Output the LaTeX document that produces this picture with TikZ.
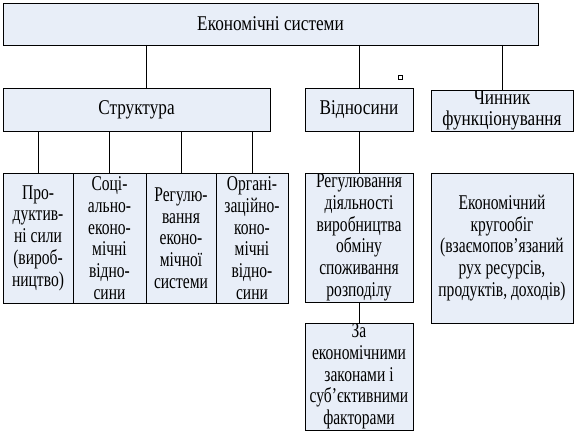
\documentclass[tikz,border=0pt]{standalone}
\usepackage{fontspec}
\setmainfont{Liberation Serif}[FakeStretch=0.82]
\newfontfamily\narrowserif{Liberation Serif}[FakeStretch=0.74]
\usetikzlibrary{positioning}
\definecolor{boxblue}{HTML}{E8EEF8}
\tikzset{
    sys box/.style={
        draw=black,
        line width=0.9pt,
        fill=boxblue,
        align=center,
        inner sep=0pt,
        outer sep=0pt,
        anchor=north west,
        font=\fontsize{21}{21.7}\selectfont
    },
    sys cell/.style={sys box, font=\narrowserif\fontsize{21}{21.7}\selectfont},
    sys line/.style={draw=black, line width=0.9pt},
    sys tick/.style={draw=black, line width=0.7pt, fill=white, minimum size=4pt, inner sep=0pt}
}

\begin{document}
\begin{tikzpicture}[x=1pt, y=-1pt]
\useasboundingbox (0,0) rectangle (575,433);
% top level
\node[sys box, minimum width=535pt, minimum height=42pt] (top) at (3,3) {Економічні системи};

% second level
\node[sys box, minimum width=267pt, minimum height=43pt] (str) at (3,88) {Структура};
\node[sys box, minimum width=108pt, minimum height=43pt] (rel) at (305,88) {Відносини};
\node[sys box, minimum width=142pt, minimum height=41pt] (fac) at (431,90) {Чинник\\функціонування};
\node[sys tick] (tick) at (400,77.5) {};

% structure parts
\node[sys cell, minimum width=70pt, minimum height=130pt] (prod) at (3,173) {Про-\\дуктив-\\ні сили\\(вироб-\\ництво)};
\node[sys cell, minimum width=73pt, minimum height=130pt, right=0pt of prod] (soc) {Соці-\\ально-\\еконо-\\мічні\\відно-\\сини};
\node[sys cell, minimum width=70pt, minimum height=130pt, right=0pt of soc] (reg) {Регулю-\\вання\\еконо-\\мічної\\системи};
\node[sys cell, minimum width=72pt, minimum height=130pt, right=0pt of reg] (org) {Органі-\\заційно-\\коно-\\мічні\\відно-\\сини};

% relations and functioning
\node[sys cell, minimum width=108pt, minimum height=129pt] (regact) at (305,173) {Регулювання\\діяльності\\виробництва\\обміну\\споживання\\розподілу};
\node[sys cell, minimum width=108pt, minimum height=107pt] (law) at (305,323) {За\\економічними\\законами і\\суб’єктивними\\факторами};
\node[sys cell, minimum width=142pt, minimum height=150pt] (circ) at (431,173) {Економічний\\кругообіг\\(взаємопов’язаний\\рух ресурсів,\\продуктів, доходів)};

% connectors
\draw[sys line] (top.south -| soc.east) -- (str.north -| soc.east);
\draw[sys line] (top.south -| rel.north) -- (rel.north);
\draw[sys line] (top.south -| fac.north) -- (fac.north);
\foreach \part in {prod,soc,reg,org}
    \draw[sys line] (str.south -| \part.north) -- (\part.north);
\draw[sys line] (rel.south) -- (regact.north);
\draw[sys line] (regact.south) -- (law.north);
\end{tikzpicture}
\end{document}
